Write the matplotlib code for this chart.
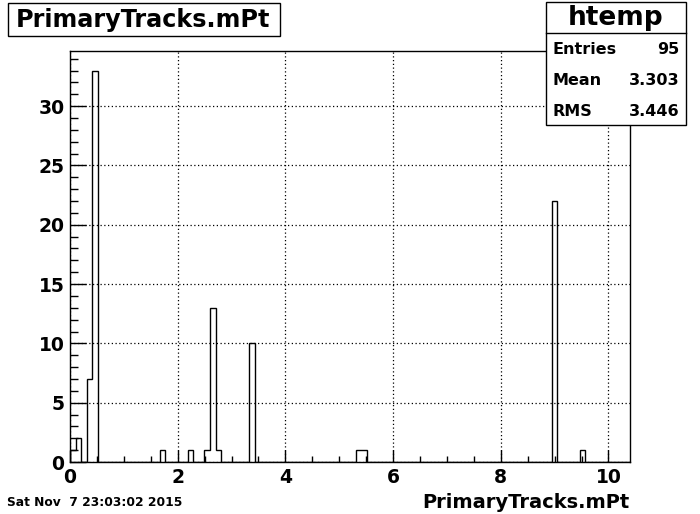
import matplotlib
matplotlib.use("Agg")
import matplotlib.pyplot as plt
from matplotlib.patches import Rectangle
from matplotlib.ticker import MultipleLocator
import numpy as np

# histogram htemp: 100 bins over [0, 10.4]
x_min = 0.0
x_max = 10.4
n_bins = 100
# non-empty bins (bin index -> entries)
filled_bins = [0, 1, 3, 4, 16, 21, 24, 25, 26, 32, 51, 52, 86, 91]
filled_counts = [1, 2, 7, 33, 1, 1, 1, 13, 1, 10, 1, 1, 22, 1]

title = "PrimaryTracks.mPt"
stat_labels = ["Entries", "Mean", "RMS"]
stat_values = ["95", "3.303", "3.446"]
date_text = "Sat Nov  7 23:03:02 2015"

W, H = 700, 514


def fx(px):
    return px / W


def fy(py):
    return 1 - py / H


def main():
    plt.rcParams['font.family'] = ['DejaVu Sans']
    plt.rcParams['font.weight'] = 'bold'

    edges = np.linspace(x_min, x_max, n_bins + 1)
    counts = np.zeros(n_bins)
    counts[filled_bins] = filled_counts

    fig = plt.figure(figsize=(W / 100, H / 100), dpi=100)
    ax = fig.add_axes([fx(70), fy(462), fx(630) - fx(70), fy(51) - fy(462)])

    ax.stairs(counts, edges, color='black', linewidth=1.0, zorder=3)
    ax.set_xlim(x_min, x_max)
    ax.set_ylim(0, counts.max() * 1.05)

    ax.xaxis.set_major_locator(MultipleLocator(2))
    ax.xaxis.set_minor_locator(MultipleLocator(0.5))
    ax.yaxis.set_major_locator(MultipleLocator(5))
    ax.yaxis.set_minor_locator(MultipleLocator(1))
    ax.tick_params(axis='both', which='both', direction='in', width=1,
                   labelsize=13.5, top=False, right=False)
    ax.tick_params(axis='x', which='major', length=8.5, pad=4)
    ax.tick_params(axis='x', which='minor', length=4.5)
    ax.tick_params(axis='y', which='major', length=11.5, pad=4)
    ax.tick_params(axis='y', which='minor', length=5.8)
    for lab in ax.get_xticklabels() + ax.get_yticklabels():
        lab.set_fontweight('bold')
    for sp in ax.spines.values():
        sp.set_linewidth(1)
    ax.grid(True, which='major', linestyle=(0, (1, 2)), color='black', linewidth=0.9)
    ax.set_axisbelow(True)

    # title box
    fig.patches.append(Rectangle((fx(8), fy(36)), fx(280) - fx(8), fy(3) - fy(36),
                                 transform=fig.transFigure, facecolor='white',
                                 edgecolor='black', linewidth=1))
    fig.text(fx(143), fy(20), title, ha='center', va='center',
             fontsize=17.2, fontweight='bold')

    # stats box
    fig.patches.append(Rectangle((fx(546), fy(125)), fx(686) - fx(546), fy(2) - fy(125),
                                 transform=fig.transFigure, facecolor='white',
                                 edgecolor='black', linewidth=1, zorder=5))
    fig.lines.append(plt.Line2D([fx(546), fx(686)], [fy(33), fy(33)],
                                transform=fig.transFigure, color='black',
                                linewidth=1, zorder=6))
    fig.text(fx(616), fy(18), "htemp", ha='center', va='center',
             fontsize=19, fontweight='bold', zorder=7)
    for i, (lab, val) in enumerate(zip(stat_labels, stat_values)):
        yy = fy(49 + i * 31.5)
        fig.text(fx(553), yy, lab, ha='left', va='center', fontsize=11.5,
                 fontweight='bold', zorder=7)
        fig.text(fx(679), yy, val, ha='right', va='center', fontsize=11.5,
                 fontweight='bold', zorder=7)

    fig.text(fx(630), fy(503), title, ha='right', va='center',
             fontsize=14, fontweight='bold')
    fig.text(fx(7), fy(503), date_text, ha='left', va='center',
             fontsize=8.8, fontweight='bold')

    fig.savefig("out.png", dpi=100)


if __name__ == "__main__":
    main()
